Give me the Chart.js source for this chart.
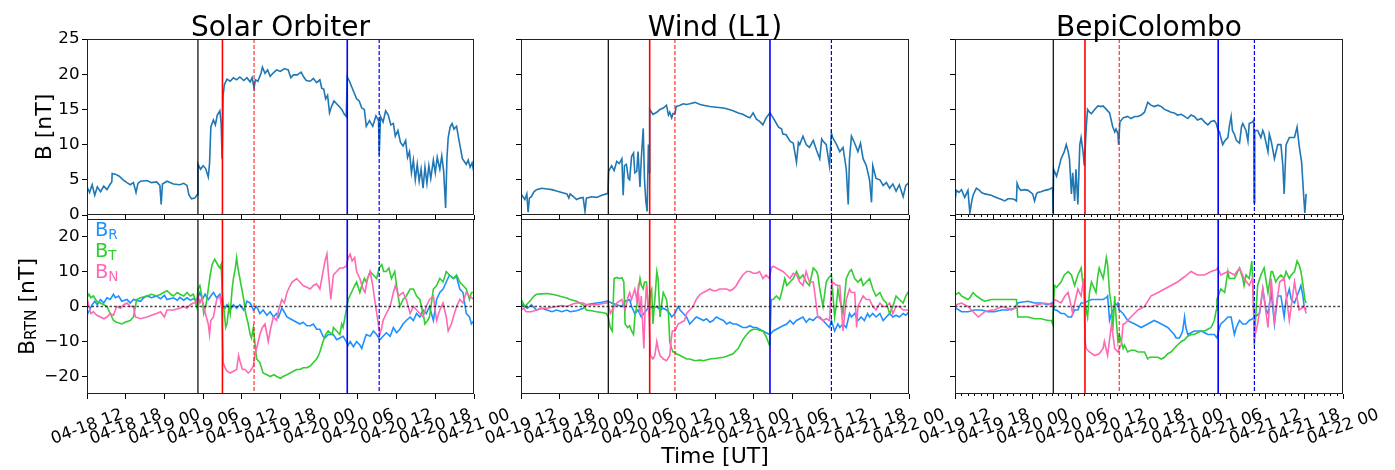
<!DOCTYPE html>
<html>
<head>
    <meta charset="UTF-8">
    <title>Solar Orbiter / Wind / BepiColombo</title>
    <script src="https://cdn.jsdelivr.net/npm/chart.js"></script>
    <style>
        body { margin: 0; background: #fff; }
        #wrap { position: relative; width: 1395px; height: 470px; }
        #wrap canvas { position: absolute; left: 0; top: 0; }
    </style>
</head>
<body>
<div id="wrap"></div>
<script>
// time is in hours since 04-18 00:00 UT, values in nT
const soloTicks = [12, 18, 24, 30, 36, 42, 48, 54, 60, 66, 72];
const soloTickLabels = ['04-18 12', '04-18 18', '04-19 00', '04-19 06', '04-19 12', '04-19 18',
    '04-20 00', '04-20 06', '04-20 12', '04-20 18', '04-21 00'];
const l1Ticks = [36, 42, 48, 54, 60, 66, 72, 78, 84, 90, 96];
const l1TickLabels = ['04-19 12', '04-19 18', '04-20 00', '04-20 06', '04-20 12', '04-20 18',
    '04-21 00', '04-21 06', '04-21 12', '04-21 18', '04-22 00'];
const bTicks = [0, 5, 10, 15, 20, 25];
const rtnTicks = [-20, -10, 0, 10, 20];

// shock, MO start, MO start (alt), MO end, MO end (alt)
const soloEvents = [29.2, 33.0, 37.9, 52.35, 57.3];
const windEvents = [49.5, 55.9, 59.8, 74.5, 84.0];
const bepiEvents = [51.2, 56.1, 61.4, 76.7, 82.3];

const soloB = [[12.0,4.0],[12.4,3.2],[12.8,4.3],[13.2,2.8],[13.6,4.0],[14.1,3.3],[14.6,4.1],[15.1,3.6],[15.6,4.4],[15.85,4.7],
    [15.9,5.9],[16.4,5.8],[17.0,5.5],[17.6,5.0],[18.2,4.6],[18.7,4.3],[19.2,4.6],[19.6,3.2],[19.9,4.5],[20.3,4.8],
    [21.3,4.9],[22.0,4.6],[22.8,4.7],[23.3,4.2],[23.5,1.5],[23.7,4.4],[24.4,4.8],[25.4,4.4],[26.4,4.3],[27.0,4.5],
    [27.5,4.2],[27.8,2.9],[28.2,2.3],[28.7,2.4],[29.1,2.9],[29.2,7.2],[29.6,6.5],[30.0,7.0],[30.4,6.6],[30.8,5.4],
    [31.0,7.3],[31.2,12.5],[31.6,13.5],[31.9,12.8],[32.2,14.2],[32.6,14.8],[32.8,13.0],[32.95,8.0],[33.1,17.0],[33.3,18.5],
    [33.7,19.3],[34.2,19.0],[34.7,19.5],[35.2,19.2],[35.7,19.6],[36.3,19.1],[36.8,19.5],[37.3,18.9],[37.6,19.5],[37.9,18.0],
    [38.1,19.2],[38.5,19.0],[39.0,20.2],[39.2,21.0],[39.6,20.1],[40.0,20.6],[40.4,19.7],[40.9,20.2],[41.4,20.6],[42.0,20.4],
    [42.6,20.8],[43.2,20.6],[43.6,19.5],[44.0,19.9],[44.6,19.9],[45.2,20.3],[45.6,19.6],[46.0,19.1],[46.6,19.0],[47.1,19.4],
    [47.6,18.8],[48.1,19.2],[48.4,18.0],[48.7,17.9],[49.0,16.5],[49.3,17.0],[49.6,14.5],[49.9,15.4],[50.3,16.2],[50.7,15.8],
    [51.1,15.4],[51.5,15.0],[51.9,14.3],[52.2,14.0],[52.35,19.6],[52.7,19.0],[53.0,18.3],[53.4,17.4],[53.8,16.5],[54.2,16.2],
    [54.6,15.2],[55.0,15.0],[55.3,12.6],[55.8,13.4],[56.3,12.6],[56.8,14.1],[57.2,13.4],[57.3,8.5],[57.5,14.0],[57.9,13.2],
    [58.3,14.8],[58.7,14.2],[59.1,12.8],[59.5,13.0],[59.8,11.2],[60.2,12.0],[60.6,10.3],[61.0,9.8],[61.4,10.6],[61.7,8.2],
    [62.0,9.0],[62.3,6.0],[62.6,7.8],[62.9,5.0],[63.2,7.2],[63.5,4.8],[63.8,6.5],[64.1,3.8],[64.4,6.8],[64.7,4.5],
    [65.0,7.0],[65.3,5.2],[65.7,7.8],[66.0,6.0],[66.3,8.2],[66.7,6.5],[67.0,8.4],[67.3,6.2],[67.6,1.0],[67.8,8.0],
    [68.0,11.0],[68.3,12.5],[68.6,13.0],[68.9,12.2],[69.3,12.6],[69.6,11.0],[69.9,9.5],[70.2,8.0],[70.5,7.6],[70.8,7.2],
    [71.1,7.8],[71.4,6.8],[71.7,7.4],[72.0,6.0]];

const soloBR = [[12.0,-2.5],[12.4,-1],[12.8,0.5],[13.2,1.5],[13.6,0.5],[14.1,2],[14.6,1],[15.1,2.5],[15.6,2],[16.1,3.5],
    [16.4,2.5],[16.9,3],[17.4,1.5],[18.2,2],[18.7,1],[19.2,2],[20.3,1.5],[20.8,2.5],[21.3,3],[22.0,2.5],
    [22.8,3],[23.4,2.2],[24.0,3.2],[24.4,2],[25.4,2.5],[26.0,1.8],[26.4,2.6],[27.0,1.8],[27.5,2.5],[28.0,1.8],
    [28.5,2.2],[29.0,2],[29.2,2.5],[29.5,4],[29.9,2],[30.3,3.5],[30.8,2],[31.2,3],[31.6,4],[32.1,2.5],
    [32.6,3.5],[33.0,0.5],[33.4,-0.5],[33.7,0.5],[34.2,-1],[34.7,0.5],[35.2,-0.5],[35.7,0.5],[36.3,-1],[36.8,1.5],
    [37.3,1],[37.8,-1],[38.3,0],[38.8,-2],[39.3,-1],[39.9,-2.5],[40.4,-1.5],[40.9,-3],[41.4,-2],[41.7,-3],
    [42.2,-0.5],[42.4,-1],[43.0,-3],[43.5,-3.5],[44.0,-4],[44.5,-4.5],[45.0,-5],[45.5,-4.5],[46.1,-5.5],[46.6,-5.5],
    [47.1,-5],[47.6,-6.5],[48.1,-6.5],[48.6,-8.5],[48.9,-9],[49.4,-8],[50.2,-8],[50.7,-9.5],[51.2,-9],[51.7,-8.5],
    [52.2,-10],[52.5,-11],[52.8,-10],[53.3,-11.5],[53.8,-10],[54.3,-11],[54.6,-12],[55.1,-9],[55.3,-8],[55.9,-8.5],
    [56.4,-7],[56.9,-8],[57.4,-9.5],[57.9,-8.5],[58.4,-7.5],[59.0,-8.5],[59.5,-6],[60.0,-7.5],[60.5,-6.5],[61.0,-5],
    [61.5,-4],[62.1,-3],[62.6,-4],[63.1,-2],[63.6,-3],[64.1,-1],[64.6,-2],[65.1,0],[65.7,-4],[66.2,2],
    [66.7,4],[67.2,5],[67.7,7],[68.2,9],[68.8,8],[69.3,8.5],[69.8,5],[70.3,4],[70.8,-2],[71.3,-3],
    [71.6,-5],[72.0,-4]];

const soloBT = [[12.0,2.5],[12.3,3.5],[12.6,2.5],[13.0,3],[13.5,1.5],[14.1,1],[14.6,0.5],[15.1,0],[15.6,-2],[16.1,-4],
    [16.6,-4.5],[17.4,-5],[17.9,-4.5],[18.7,-4],[19.2,-3],[19.7,2],[20.3,2.5],[21.3,3],[22.0,3.5],[22.8,3],
    [23.4,3.5],[24.4,4.5],[25.0,3.5],[25.4,3],[26.0,4],[26.4,3.5],[27.0,3],[27.5,4],[28.0,3],[28.5,3.5],
    [29.0,0],[29.2,5],[29.5,6],[29.8,3],[30.1,-2],[30.5,1],[30.8,5],[31.1,9],[31.4,12],[31.8,13.5],
    [32.1,12.5],[32.4,11.5],[32.6,11],[32.8,12],[33.0,3],[33.2,0],[33.5,-6],[33.7,-5],[34.0,0],[34.2,-2],
    [34.5,5],[34.7,8],[35.0,11],[35.2,14],[35.4,11],[35.7,8],[36.0,5],[36.3,2],[36.6,-2],[37.0,-5],
    [37.3,-8],[37.5,-9],[37.8,-6],[38.0,-10],[38.3,-15],[38.8,-16],[39.3,-19],[39.9,-19.5],[40.4,-20],[41.0,-19.5],
    [41.4,-20],[42.0,-20.5],[42.4,-20],[43.0,-19.5],[43.5,-19],[44.0,-18.5],[44.5,-18],[45.0,-18],[45.5,-17.5],[46.1,-17.5],
    [46.6,-17],[47.1,-16],[47.6,-15],[47.9,-14],[48.1,-13],[48.6,-10],[49.0,-8],[49.4,-7],[50.0,-8],[50.2,-6],
    [50.7,-7],[51.2,-8],[51.5,-5],[51.7,-6],[52.0,-3],[52.3,0],[52.5,2],[53.0,4],[53.5,6],[53.8,7],
    [54.3,4],[54.6,6],[55.0,8],[55.3,7],[55.9,10],[56.4,9],[56.9,8],[57.3,11],[57.7,12],[58.0,10],
    [58.4,10],[58.8,11],[59.2,8],[59.7,10],[60.0,6],[60.5,0],[61.0,2],[61.5,3],[62.1,5],[62.6,5],
    [63.1,3],[63.6,2],[64.1,-2],[64.4,-5],[64.8,-4],[65.1,-3],[65.7,5],[66.2,6],[66.7,8],[67.2,7],
    [67.7,10],[68.2,9],[68.8,8],[69.3,9],[69.8,7],[70.3,6],[70.8,5],[71.3,2],[71.6,4],[72.0,4]];

const soloBN = [[12.0,2.5],[12.3,0],[12.6,-2],[13.0,-1.5],[13.5,-2.5],[14.1,-3],[14.6,-3.5],[15.1,-3],[15.6,-2],[16.1,-2.5],
    [16.6,0],[17.2,-0.5],[17.7,0.5],[18.2,1],[18.7,0],[19.2,0],[19.5,-3],[20.3,-3.5],[21.3,-3],[22.0,-2.5],
    [22.8,-2],[23.4,-1.5],[24.0,-3],[24.4,-1],[25.4,-1],[26.4,-0.5],[27.0,0],[27.5,-0.5],[28.0,0.5],[28.5,1],
    [29.0,1],[29.2,3],[29.5,1],[29.8,2.5],[30.1,0],[30.5,-3],[30.8,-5],[31.0,-8],[31.2,-4],[31.6,-3],
    [32.1,2],[32.6,3],[32.9,-1],[33.1,-16],[33.4,-17.5],[33.7,-18.5],[34.2,-19],[34.7,-18.5],[35.2,-18],[35.5,-14],
    [35.7,-15.5],[36.1,-18],[36.5,-18],[37.0,-19],[37.3,-18.5],[37.8,-17],[38.0,-14],[38.3,-12],[38.8,-8],[39.2,-6],
    [39.6,-5],[39.9,-8],[40.1,-10],[40.5,-6],[40.9,-3],[41.4,-4],[41.7,-1],[42.2,2],[42.6,1],[43.0,4],
    [43.5,6],[43.8,7],[44.5,8],[45.0,7],[45.5,6],[46.1,5.5],[46.6,5],[47.1,6],[47.6,6.5],[48.1,5],
    [48.4,8],[48.9,13],[49.2,15],[49.4,10],[49.8,2],[50.2,9],[50.7,10],[51.2,11],[51.7,11],[52.2,11.5],
    [52.5,14],[52.8,15],[53.1,13],[53.5,14],[53.8,10],[54.3,8],[54.8,5],[55.1,4],[55.5,8],[55.9,10],
    [56.3,6],[56.6,2],[57.0,-3],[57.4,-8],[57.7,-6],[57.9,-4],[58.4,-2],[59.0,0],[59.5,4],[59.8,6],
    [60.3,3],[61.0,4],[61.5,2],[62.1,-2],[62.6,0],[63.1,-1],[63.6,-2],[64.1,-3],[64.6,0],[65.1,2],
    [65.7,3],[66.2,-4],[66.7,-1],[67.2,1],[67.7,-3],[68.0,-7],[68.5,-5],[68.8,-3],[69.3,0],[69.8,2],
    [70.3,1],[70.8,4],[71.3,3],[72.0,2]];

const windB = [[36.0,3.0],[36.3,2.6],[36.6,2.2],[36.9,3.0],[37.1,0.4],[37.3,2.4],[37.6,2.6],[38.0,3.3],[38.4,3.6],[39.2,3.8],
    [40.0,3.7],[40.8,3.6],[41.5,3.4],[42.3,3.2],[43.1,3.0],[43.4,2.4],[43.6,3.0],[44.1,2.6],[44.6,2.2],[45.1,2.4],
    [45.6,2.5],[45.9,0.5],[46.1,2.4],[46.9,2.6],[47.7,2.5],[48.5,2.8],[49.2,3.0],[49.45,3.1],[49.55,6.2],[50.0,7.0],
    [50.4,6.3],[50.8,7.6],[51.2,7.3],[51.6,8.0],[51.8,2.8],[52.0,7.0],[52.3,7.2],[52.6,5.2],[52.8,5.0],[53.1,8.3],
    [53.4,8.8],[53.6,6.0],[53.9,6.2],[54.1,9.0],[54.4,4.0],[54.6,8.0],[54.9,12.3],[55.1,5.0],[55.3,2.0],[55.5,0.5],
    [55.7,10.0],[55.8,6.0],[55.9,15.0],[56.2,14.6],[56.4,14.3],[57.0,14.6],[57.5,15.0],[58.0,15.2],[58.5,15.6],[58.8,14.2],
    [59.0,14.6],[59.3,13.8],[59.5,14.4],[59.8,14.4],[60.0,15.4],[60.6,15.6],[61.1,15.8],[61.6,15.7],[62.1,15.8],[62.9,16.0],
    [63.7,15.7],[64.2,15.6],[65.2,15.4],[66.2,15.3],[67.3,15.2],[67.8,15.1],[68.8,14.8],[69.6,14.5],[70.3,14.3],[70.9,14.0],
    [71.4,13.8],[71.9,14.5],[72.4,13.6],[72.9,13.3],[73.4,12.8],[73.9,13.8],[74.5,14.5],[75.0,13.8],[75.5,13.0],[75.8,12.5],
    [76.3,12.2],[76.5,11.5],[77.0,11.4],[77.6,10.5],[78.1,10.2],[78.6,7.5],[78.9,10.3],[79.1,10.0],[79.6,11.2],[80.1,10.0],
    [80.6,9.6],[81.2,10.6],[81.7,9.2],[82.2,8.0],[82.5,10.8],[82.7,10.5],[83.2,10.0],[83.7,7.0],[84.0,11.6],[84.2,11.0],
    [84.8,10.0],[85.3,9.0],[85.8,9.6],[86.3,6.5],[86.6,1.5],[86.8,8.0],[87.1,11.2],[87.6,10.2],[88.1,9.0],[88.5,10.2],
    [88.9,8.0],[89.4,7.0],[89.9,5.0],[90.2,1.8],[90.4,7.0],[90.9,5.2],[91.5,5.0],[92.0,4.2],[92.5,4.6],[93.0,3.8],
    [93.5,4.4],[94.0,3.4],[94.5,4.3],[95.1,2.6],[95.5,4.2],[96.0,4.6]];

const windBR = [[36.0,1],[36.5,0],[37.0,-0.5],[37.6,0.5],[38.4,-1],[39.2,-0.5],[40.0,-1],[40.8,-1.5],[41.5,-1],[42.3,-1.5],
    [43.1,-1],[43.6,-1.5],[44.6,-1.2],[45.6,-0.5],[46.1,0.5],[46.9,0.8],[47.7,1],[48.5,1.2],[49.2,1.5],[49.5,1.5],
    [50.0,1],[50.8,0.5],[51.6,0],[52.1,1.5],[52.8,2],[53.1,0],[53.6,-2],[54.1,-1],[54.6,-3],[55.0,-2],
    [55.4,-1],[55.9,0],[56.4,-0.5],[57.0,0],[57.5,-1],[58.0,-0.5],[58.5,-1],[59.0,-2],[59.3,-3],[59.8,-2],
    [60.3,0],[60.6,-1],[61.1,-2],[61.6,-3],[62.1,-5],[62.6,-4],[63.1,-3],[63.7,-3.5],[64.2,-4],[64.7,-3.5],
    [65.2,-4.5],[65.7,-4],[66.2,-3],[66.7,-3.5],[67.3,-4],[67.8,-5],[68.3,-4.5],[68.8,-5],[69.3,-5],[69.8,-5.5],
    [70.3,-6],[70.9,-6],[71.4,-5.5],[71.9,-6],[72.4,-6],[72.9,-6.5],[73.4,-7],[73.9,-7.5],[74.5,-8],[75.0,-7],
    [75.5,-6.5],[76.0,-6],[76.5,-5.5],[77.1,-5],[77.6,-4],[78.1,-5],[78.6,-4],[79.1,-3.5],[79.6,-3],[80.1,-4.5],
    [80.6,-3.5],[81.2,-4],[81.7,-3],[82.2,-3],[82.7,-4],[83.2,-5],[83.7,-6],[84.0,-4],[84.5,-7],[85.0,-5],
    [85.3,-6],[85.8,-5],[86.3,-6],[86.8,-2],[87.1,-3],[87.6,-2],[88.1,-4],[88.6,-3],[89.1,-4],[89.6,-2],
    [89.9,-3],[90.4,-2],[90.9,-3],[91.5,-2],[92.0,-4],[92.5,-3],[93.0,-2],[93.5,-3],[94.0,-2.5],[94.5,-3],
    [95.1,-2],[95.5,-2.5],[96.0,-1.5]];

const windBT = [[36.0,2],[36.3,1],[36.6,0],[37.1,1],[37.6,2],[38.0,3],[38.4,3.5],[39.2,3.6],[40.0,3.7],[40.8,3.5],
    [41.5,3.2],[42.3,2.8],[43.1,2.4],[43.6,2],[44.6,1.5],[45.1,1],[45.6,0.5],[46.1,-1],[46.9,-1.2],[47.7,-1.5],
    [48.5,-1.7],[49.2,-2],[49.5,-3],[49.8,-6],[50.1,-7],[50.4,8],[50.8,8.3],[51.2,8],[51.6,8.2],[51.9,7],
    [52.1,-5],[52.5,-6],[52.8,-5.5],[53.1,-7],[53.4,-8],[53.6,-3],[53.9,0],[54.1,4],[54.4,8],[54.6,6],
    [54.9,5],[55.1,7],[55.4,7],[55.6,2],[55.8,-2],[56.0,4],[56.2,5],[56.4,-5],[56.7,2],[57.0,10],
    [57.2,8],[57.5,-3],[57.7,0],[58.0,4],[58.5,2],[58.8,-2],[59.0,-10],[59.3,-12],[59.5,-13],[59.8,-13],
    [60.0,-13.5],[60.6,-14],[61.1,-14.5],[61.6,-15],[62.1,-15],[62.9,-15.5],[63.7,-15.3],[64.2,-15.5],[65.2,-15],[66.2,-14.8],
    [67.3,-14.5],[67.8,-14.2],[68.8,-13.5],[69.3,-12.5],[69.6,-12],[70.3,-9.5],[70.9,-8],[71.4,-7],[71.9,-6.5],[72.4,-6.5],
    [72.9,-6.8],[73.4,-7],[73.9,-8.5],[74.2,-10],[74.4,-11],[74.5,-9],[74.7,2],[75.0,2],[75.5,3],[76.0,2],
    [76.3,4],[76.8,8],[77.1,6],[77.6,7],[78.1,8],[78.6,10],[79.1,8],[79.6,9],[80.1,7],[80.6,6],
    [81.2,11],[81.7,10],[81.9,9],[82.2,5],[82.7,0],[83.2,7],[83.5,8],[84.0,9],[84.5,-3],[84.8,1],
    [85.0,5],[85.3,2],[85.8,-2],[86.3,8],[86.8,10],[87.1,10.5],[87.6,8],[88.1,7],[88.6,8],[88.9,6],
    [89.4,7],[89.9,8],[90.4,5],[90.9,3],[91.5,4],[92.0,2],[92.5,1],[93.0,-2],[93.5,0],[94.0,3],
    [94.5,2],[95.1,1],[95.5,3],[96.0,4.5]];

const windBN = [[36.0,-1],[36.4,-0.5],[36.8,-1.5],[37.6,-1.5],[38.4,-1],[39.2,-0.5],[40.0,-0.5],[41.5,0],[42.3,0.3],[43.1,0],
    [44.1,0.8],[44.6,1],[45.6,1],[46.1,0.5],[46.9,0.5],[47.7,0.5],[48.5,0.8],[49.2,1],[49.5,1],[49.8,-2],
    [50.1,-1],[50.8,1],[51.6,2],[52.1,-1],[52.6,3],[52.8,4],[53.1,2],[53.6,5],[53.9,2],[54.1,5],
    [54.4,-2],[54.6,3],[55.0,-12],[55.2,0],[55.4,6],[55.8,-3],[56.0,-14],[56.4,-15],[56.7,-14],[57.0,-10],
    [57.2,-12],[57.5,-14],[58.0,-15],[58.5,-15.5],[59.0,-14],[59.2,-10],[59.4,-7],[59.8,-7],[60.3,-5],[60.8,-4.5],
    [61.3,-4],[61.6,-2],[62.1,-1],[62.6,0],[63.1,2],[63.7,3.5],[64.2,4],[64.7,4.5],[65.2,5],[65.7,4.5],
    [66.2,4.5],[66.7,5],[67.3,5],[67.8,5],[68.3,4.5],[68.8,5],[69.3,6],[69.6,7],[70.3,9],[70.9,10],
    [71.4,10],[71.9,9.5],[72.4,9.5],[72.9,10],[73.4,8],[73.9,9],[74.4,8],[74.5,8],[74.7,11],[75.0,11.5],
    [75.5,11],[76.0,10.5],[76.5,10],[77.1,9],[77.6,8],[78.1,9.5],[78.6,9],[79.1,7],[79.6,6],[80.1,10],
    [80.6,7],[81.2,7],[81.7,0],[81.9,-3],[82.7,-4],[83.2,-3.5],[83.7,-4],[84.0,5],[84.2,7],[84.8,6],
    [85.3,6],[85.8,-7],[86.3,2],[86.8,5],[87.1,4],[87.6,4],[87.9,-6],[88.1,0],[88.9,3],[89.4,2],
    [89.9,2],[90.4,0],[90.9,-1],[91.5,1],[92.0,0],[92.5,0],[93.0,1],[93.5,-2],[94.0,0],[94.5,0],
    [95.1,-1],[96.0,-1]];

const bepiB = [[36.0,2.0],[36.2,3.5],[36.6,3.2],[37.0,3.6],[37.5,2.5],[38.0,3.5],[38.3,0.3],[38.6,2.0],[38.8,2.8],[39.3,3.8],
    [39.8,3.5],[40.1,3.2],[40.6,3.0],[41.6,2.8],[42.1,2.6],[42.6,2.4],[43.2,2.2],[43.7,2.0],[44.2,2.3],[44.7,2.3],
    [45.2,2.2],[45.5,2.0],[45.6,4.5],[45.9,3.8],[46.2,3.5],[46.8,3.6],[47.3,3.5],[48.0,3.0],[48.3,2.0],[48.6,3.0],
    [48.8,3.2],[49.3,3.3],[49.9,3.5],[50.4,3.6],[50.9,3.8],[51.1,3.9],[51.15,0.3],[51.25,6.5],[51.7,5.5],[52.0,6.5],
    [52.4,8.0],[52.9,9.0],[53.2,10.0],[53.5,9.0],[53.7,8.0],[54.0,3.0],[54.2,6.0],[54.5,2.0],[54.7,6.5],[55.0,1.5],
    [55.3,10.0],[55.5,11.0],[55.8,9.0],[56.0,7.0],[56.3,12.5],[56.5,15.0],[56.8,14.6],[57.1,14.4],[57.6,15.0],[58.1,15.5],
    [58.6,15.4],[58.9,15.5],[59.4,15.0],[59.9,14.5],[60.4,12.5],[60.7,11.8],[60.9,12.2],[61.2,11.5],[61.3,10.0],[61.5,13.2],
    [62.0,13.8],[62.7,14.0],[63.2,13.7],[63.8,14.0],[64.3,14.0],[64.8,14.2],[65.3,14.6],[65.8,16.0],[66.3,15.6],[66.8,15.4],
    [67.4,15.6],[67.9,15.4],[68.4,15.0],[68.9,14.8],[69.4,14.6],[69.9,14.5],[70.4,14.2],[71.0,14.3],[71.5,14.0],[72.0,13.7],
    [72.5,14.2],[73.0,14.0],[73.5,13.5],[74.1,13.7],[74.6,13.2],[75.1,12.8],[75.6,13.3],[76.1,13.4],[76.4,13.0],[76.7,12.0],
    [76.9,11.8],[77.1,11.0],[77.4,10.0],[77.7,10.5],[78.2,11.0],[78.4,12.5],[78.7,14.0],[78.9,12.0],[79.2,11.5],[79.5,10.6],
    [80.0,10.2],[80.3,12.5],[80.5,13.0],[81.0,12.0],[81.3,10.5],[81.5,13.0],[82.0,13.2],[82.2,13.5],[82.25,1.8],[82.35,12.0],
    [82.8,12.0],[83.3,11.0],[83.6,12.0],[83.8,11.5],[84.4,9.0],[84.6,11.5],[84.9,10.5],[85.4,8.0],[85.9,10.0],[86.4,10.0],
    [86.7,7.0],[86.9,3.0],[87.2,10.0],[87.7,11.0],[88.0,11.0],[88.5,11.0],[88.9,12.5],[89.2,10.0],[89.6,7.5],[89.9,3.0],
    [90.1,0.3],[90.3,3.0]];

const bepiBR = [[36.0,-1],[36.2,-0.5],[37.0,-1.5],[38.0,-1.5],[39.0,-1],[40.1,-1],[41.1,-1.5],[42.1,-1.5],[43.2,-1],[44.2,-1],
    [45.2,-0.5],[45.7,1],[46.2,1.2],[47.3,1.5],[48.3,1],[49.3,1],[50.4,0.5],[50.9,1],[51.1,1],[51.4,-1],
    [51.7,-1],[52.4,-2],[52.9,-2],[53.5,-3],[54.0,-3],[54.5,-1],[55.0,-1],[55.5,1],[56.0,1],[56.5,1.5],
    [57.1,2],[57.6,2],[58.3,2],[58.9,2],[59.4,2.5],[59.6,3],[59.9,-4],[60.2,-2],[60.7,0],[61.2,1],
    [61.4,-1],[62.0,-2],[62.7,-4],[63.2,-4.5],[63.8,-5],[64.3,-5.5],[64.8,-6],[65.3,-5.5],[65.8,-5],[66.3,-4.5],
    [66.8,-4],[67.4,-4.5],[67.9,-5],[68.4,-5.5],[68.9,-6],[69.4,-7],[69.9,-8],[70.2,-9],[70.7,-9],[71.0,-8],
    [71.2,-7],[71.5,-3],[71.7,-6],[72.0,-8],[72.5,-7.5],[73.0,-7],[73.5,-7],[74.1,-7],[74.6,-7.5],[75.1,-8],
    [75.6,-8],[76.1,-8],[76.5,-9],[76.9,-6],[77.1,-5],[77.7,-4],[78.2,-3],[78.7,-3],[78.9,-5],[79.2,-8],
    [79.5,-6],[80.0,-4],[80.5,-5],[81.0,-5],[81.5,-4],[82.0,-3.5],[82.3,-3],[83.1,-2],[83.6,5],[84.1,-1],
    [84.4,-2],[84.9,4],[85.4,-5],[85.9,3],[86.4,3],[86.9,-3],[87.2,2],[87.7,5],[88.0,2],[88.5,1],
    [88.9,3],[89.5,6],[89.8,3],[90.0,0],[90.3,-1]];

const bepiBT = [[36.0,4],[36.2,3.5],[36.6,4],[37.0,3],[37.5,2.5],[38.0,2],[38.3,2.5],[38.8,4],[39.3,3],[40.1,2],
    [40.6,1.5],[41.6,2],[42.6,2],[43.7,2],[44.7,2],[45.2,2],[45.5,2],[45.7,-3],[46.2,-3],[47.3,-3],
    [48.3,-3.5],[49.3,-3.5],[50.4,-4],[50.9,-4],[51.1,-5],[51.4,6],[51.7,5.5],[52.4,7],[52.9,9],[53.5,10],
    [54.0,9],[54.5,6],[55.0,9],[55.5,11],[56.0,3],[56.3,-1],[56.5,-3],[56.8,4],[57.1,7],[57.8,4],
    [58.1,9],[58.3,11],[58.9,8],[59.1,10],[59.4,14],[59.6,12],[59.9,4],[60.2,0],[60.4,-7],[60.7,3],
    [60.9,-3],[61.2,-10],[61.4,-8],[62.0,-12],[62.2,-11],[62.7,-13],[63.2,-12.5],[63.8,-12.5],[64.3,-13],[64.8,-13],
    [65.3,-13],[65.8,-15],[66.1,-14.5],[66.8,-14.5],[67.4,-14.5],[67.9,-15],[68.4,-14.5],[68.9,-13.5],[69.4,-13],[69.9,-12],
    [70.4,-11],[71.0,-10],[71.5,-9.5],[72.0,-8.5],[72.5,-8],[73.0,-8],[73.5,-7.5],[74.1,-7],[74.6,-7],[75.1,-6.5],
    [75.6,-6],[76.1,-4],[76.4,-1],[76.5,2],[76.9,4],[77.1,5],[77.7,4],[78.2,10],[78.4,8],[79.2,8],
    [79.5,9],[80.0,11],[80.5,8],[80.7,6],[81.0,9],[81.5,8],[81.9,13],[82.2,0],[82.3,-11],[82.4,-6],
    [82.8,6],[83.3,9],[83.8,11],[84.4,4],[84.9,10],[85.1,10],[85.6,7],[85.9,8],[86.4,9],[86.9,8],
    [87.2,10],[87.7,8],[88.0,9],[88.5,10],[88.9,13],[89.2,12],[89.5,10],[89.9,5],[90.1,2],[90.3,1]];

const bepiBN = [[36.0,0],[36.2,0.5],[37.0,1],[38.0,0],[38.8,-1.5],[39.6,-3],[40.6,-1.5],[41.6,-1],[42.1,-1],[43.2,0],
    [44.2,-0.5],[44.7,-1],[45.7,0],[46.8,0],[47.8,0],[48.8,0.5],[49.9,1],[50.9,0.5],[51.1,0],[51.4,2],
    [52.4,1],[53.0,3],[53.5,4],[54.2,-2],[54.5,1],[55.0,5],[55.5,3],[55.9,8],[56.1,-10],[56.3,-12],
    [56.8,-13],[57.6,-14],[58.3,-13.5],[58.9,-12],[59.1,-10],[59.6,-14],[60.2,-5],[60.7,-12],[61.2,-13],[61.4,-12],
    [61.7,-11],[62.0,-5],[62.2,-5],[63.2,-3],[64.3,-1],[65.3,0],[66.3,3],[67.4,4],[68.4,5],[69.4,6],
    [70.4,7],[71.5,8.5],[72.5,10],[73.5,9],[74.6,9],[75.6,10],[76.4,10.5],[76.6,11],[77.1,9],[78.2,10],
    [79.2,9],[80.0,11],[80.7,8],[81.5,6],[82.0,8],[82.3,-9],[82.8,-5],[83.6,5],[84.4,-6],[84.9,8],
    [85.4,-4],[86.2,7],[86.9,8],[87.7,-4],[88.5,7],[89.2,-1],[90.0,0],[90.3,-2]];

const W = 1395, H = 470;
const FONT = '"DejaVu Sans", sans-serif';
const colX = [[87, 474], [521, 909], [955, 1343]];
const rowY = [[39, 215], [219, 394]];
const yAxisW = [70, 0, 0];

const eventStyles = [
    { color: '#000000', width: 1.2, dash: [] },
    { color: '#ff0000', width: 1.6, dash: [] },
    { color: 'rgba(255,0,0,0.8)', width: 1.2, dash: [4, 2] },
    { color: '#0000ff', width: 1.6, dash: [] },
    { color: '#0000ff', width: 1.2, dash: [4, 2] }
];

const panels = [
    { title: 'Solar Orbiter', min: 12, max: 72, ticks: soloTicks, labels: soloTickLabels, events: soloEvents,
      B: soloB, BR: soloBR, BT: soloBT, BN: soloBN, minor: false },
    { title: 'Wind (L1)', min: 36, max: 96, ticks: l1Ticks, labels: l1TickLabels, events: windEvents,
      B: windB, BR: windBR, BT: windBT, BN: windBN, minor: false },
    { title: 'BepiColombo', min: 36, max: 96, ticks: l1Ticks, labels: l1TickLabels, events: bepiEvents,
      B: bepiB, BR: bepiBR, BT: bepiBT, BN: bepiBN, minor: true }
];

function subText(ctx, x, y, main, sub, rest, size, subSize, shift) {
    ctx.font = size + 'px ' + FONT;
    ctx.fillText(main, x, y);
    x += ctx.measureText(main).width;
    ctx.font = subSize + 'px ' + FONT;
    ctx.fillText(sub, x, y + shift);
    x += ctx.measureText(sub).width;
    if (rest) {
        ctx.font = size + 'px ' + FONT;
        ctx.fillText(rest, x, y);
    }
}

function decor(col, row, p) {
    return {
        id: 'decor',
        afterDatasetsDraw(chart) {
            const ctx = chart.ctx, a = chart.chartArea;
            const xs = chart.scales.x, ys = chart.scales.y;
            ctx.save();
            ctx.beginPath();
            ctx.rect(a.left, a.top, a.right - a.left, a.bottom - a.top);
            ctx.clip();
            if (row === 1) {
                const py = ys.getPixelForValue(0);
                ctx.strokeStyle = 'rgba(0,0,0,0.7)';
                ctx.lineWidth = 1.5;
                ctx.setLineDash([2.5, 2]);
                ctx.beginPath();
                ctx.moveTo(a.left, py);
                ctx.lineTo(a.right, py);
                ctx.stroke();
            }
            p.events.forEach((t, i) => {
                const st = eventStyles[i];
                const px = xs.getPixelForValue(t);
                ctx.strokeStyle = st.color;
                ctx.lineWidth = st.width;
                ctx.setLineDash(st.dash);
                ctx.beginPath();
                ctx.moveTo(px, a.top);
                ctx.lineTo(px, a.bottom);
                ctx.stroke();
            });
            ctx.restore();

            ctx.save();
            if (p.minor) {
                // hourly minor ticks along the time axis
                ctx.strokeStyle = '#000';
                ctx.lineWidth = 1;
                ctx.beginPath();
                for (let h = p.min + 1; h < p.max; h++) {
                    if (h % 6 === 0) continue;
                    const px = Math.round(xs.getPixelForValue(h)) + 0.5;
                    ctx.moveTo(px, a.bottom);
                    ctx.lineTo(px, a.bottom + 2);
                }
                ctx.stroke();
            }
            ctx.strokeStyle = '#222';
            ctx.lineWidth = 1;
            ctx.strokeRect(a.left + 0.5, a.top + 0.5, a.right - a.left - 1, a.bottom - a.top - 1);
            ctx.restore();
        },
        afterDraw(chart) {
            const ctx = chart.ctx, a = chart.chartArea;
            const xs = chart.scales.x;
            ctx.save();
            ctx.fillStyle = '#000';
            if (row === 0) {
                ctx.font = '28px ' + FONT;
                ctx.textAlign = 'center';
                ctx.textBaseline = 'alphabetic';
                ctx.fillText(p.title, (a.left + a.right) / 2, 36);
                if (col === 0) {
                    ctx.save();
                    ctx.translate(51, (a.top + a.bottom) / 2);
                    ctx.rotate(-Math.PI / 2);
                    ctx.font = '22px ' + FONT;
                    ctx.fillText('B [nT]', 0, 0);
                    ctx.restore();
                }
            } else {
                ctx.font = '16.7px ' + FONT;
                ctx.textAlign = 'center';
                ctx.textBaseline = 'middle';
                p.ticks.forEach((v, i) => {
                    const px = xs.getPixelForValue(v);
                    ctx.save();
                    ctx.translate(px, 427);
                    ctx.rotate(-20 * Math.PI / 180);
                    ctx.fillText(p.labels[i], 0, 0);
                    ctx.restore();
                });
                if (col === 1) {
                    ctx.font = '22px ' + FONT;
                    ctx.textBaseline = 'alphabetic';
                    ctx.fillText('Time [UT]', (a.left + a.right) / 2, 463);
                }
                if (col === 0) {
                    ctx.textAlign = 'left';
                    ctx.textBaseline = 'alphabetic';
                    ctx.save();
                    ctx.translate(34, (a.top + a.bottom) / 2);
                    ctx.rotate(-Math.PI / 2);
                    ctx.font = '22px ' + FONT;
                    let w = ctx.measureText('B').width + ctx.measureText(' [nT]').width;
                    ctx.font = '15.4px ' + FONT;
                    w += ctx.measureText('RTN').width;
                    subText(ctx, -w / 2, 0, 'B', 'RTN', ' [nT]', 22, 15.4, 2);
                    ctx.restore();

                    const leg = [['R', '#1e90ff'], ['T', '#32cd32'], ['N', '#ff69b4']];
                    leg.forEach((l, i) => {
                        ctx.fillStyle = l[1];
                        subText(ctx, 95, 236 + i * 21, 'B', l[0], '', 19.4, 13.6, 3);
                    });
                }
            }
            ctx.restore();
        }
    };
}

function makePanel(col, row) {
    const p = panels[col];
    const cv = document.createElement('canvas');
    cv.width = W;
    cv.height = H;
    document.getElementById('wrap').appendChild(cv);

    const series = row === 0
        ? [{ data: p.B, color: '#1f77b4', order: 1 }]
        : [{ data: p.BR, color: '#1e90ff', order: 3 },
           { data: p.BT, color: '#32cd32', order: 2 },
           { data: p.BN, color: '#ff69b4', order: 1 }];

    const gridOpts = { drawOnChartArea: false, drawTicks: true, tickLength: 5, color: '#000', lineWidth: 1 };
    const yw = yAxisW[col];

    return new Chart(cv, {
        type: 'line',
        data: {
            datasets: series.map(s => ({
                data: s.data.map(d => ({ x: d[0], y: d[1] })),
                borderColor: s.color,
                borderWidth: 1.6,
                pointRadius: 0,
                tension: 0,
                fill: false,
                order: s.order
            }))
        },
        options: {
            responsive: false,
            animation: false,
            events: [],
            layout: { padding: { left: colX[col][0] - yw, right: W - colX[col][1], top: rowY[row][0], bottom: H - rowY[row][1] } },
            plugins: { legend: { display: false }, tooltip: { enabled: false }, title: { display: false } },
            scales: {
                x: {
                    type: 'linear', min: p.min, max: p.max,
                    afterBuildTicks: s => { s.ticks = p.ticks.map(v => ({ value: v })); },
                    afterFit: s => { s.height = 0; },
                    ticks: { display: false },
                    grid: gridOpts,
                    border: { display: false }
                },
                y: {
                    type: 'linear', min: row === 0 ? 0 : -25, max: 25,
                    afterBuildTicks: s => { s.ticks = (row === 0 ? bTicks : rtnTicks).map(v => ({ value: v })); },
                    afterFit: s => { s.width = yw; },
                    ticks: {
                        display: col === 0, color: '#000', padding: 2.5, autoSkip: false,
                        font: { family: FONT, size: 16.7 },
                        callback: v => String(v).replace('-', '\u2212')
                    },
                    grid: gridOpts,
                    border: { display: false }
                }
            }
        },
        plugins: [decor(col, row, p)]
    });
}

for (let c = 0; c < 3; c++) {
    makePanel(c, 0);
    makePanel(c, 1);
}
</script>
</body>
</html>
